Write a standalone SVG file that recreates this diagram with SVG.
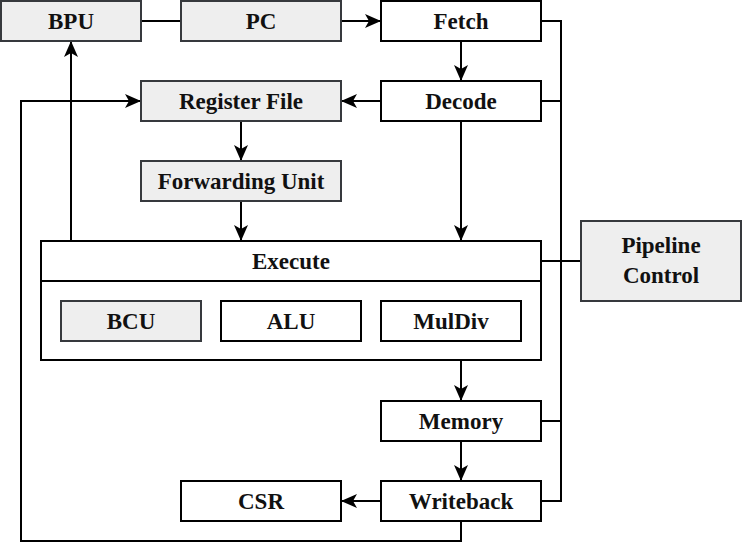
<svg xmlns="http://www.w3.org/2000/svg" width="742" height="558" viewBox="0 0 742 558">
<defs>
<marker id="arr" viewBox="0 0 16 14" refX="16" refY="7" markerWidth="16" markerHeight="14" markerUnits="userSpaceOnUse" orient="auto">
<path d="M0,0 L16,7 L0,14 L4,7 Z" fill="#000"/>
</marker>
<style>
.g{fill:#eeeeee;stroke:#36393d;stroke-width:2}
.w{fill:#ffffff;stroke:#000;stroke-width:2}
.c{fill:none;stroke:#000;stroke-width:2}
.a{fill:none;stroke:#000;stroke-width:2;marker-end:url(#arr)}
</style>
</defs>
<rect width="742" height="558" fill="#fff"/>
<g id="connectors">
<path class="c" d="M141,21 H181"/>
<path class="a" d="M341,21 H381"/>
<path class="a" d="M461,41 V81"/>
<path class="a" d="M381,101 H341"/>
<path class="a" d="M241,121 V161"/>
<path class="a" d="M241,201 V241"/>
<path class="a" d="M461,121 V241"/>
<path class="a" d="M71,241 V41"/>
<path class="a" d="M461,360 V401"/>
<path class="a" d="M461,441 V481"/>
<path class="a" d="M381,501 H341"/>
<path class="a" d="M461,521 V541 H21 V101 H141"/>
<path class="c" d="M541,21 H561 V501 H541"/>
<path class="c" d="M541,101 H561"/>
<path class="c" d="M541,421 H561"/>
<path class="c" d="M541,261 H581"/>
</g>
<g font-family="Liberation Serif, Times New Roman, DejaVu Serif, serif" font-weight="bold" font-size="23" fill="#111" text-anchor="middle">
<g id="bpu"><rect class="g" x="1" y="1" width="140" height="40"/><text x="71" y="29">BPU</text></g>
<g id="pc"><rect class="g" x="181" y="1" width="160" height="40"/><text x="261" y="29">PC</text></g>
<g id="fetch"><rect class="w" x="381" y="1" width="160" height="40"/><text x="461" y="29">Fetch</text></g>
<g id="decode"><rect class="w" x="381" y="81" width="160" height="40"/><text x="461" y="109">Decode</text></g>
<g id="regfile"><rect class="g" x="141" y="81" width="200" height="40"/><text x="241" y="109">Register File</text></g>
<g id="fwd"><rect class="g" x="141" y="161" width="200" height="40"/><text x="241" y="189">Forwarding Unit</text></g>
<g id="execute">
<rect class="w" x="41" y="241" width="500" height="119"/>
<path class="c" d="M41,281 H541"/>
<text x="291" y="269">Execute</text>
</g>
<g id="bcu"><rect class="g" x="61" y="301" width="140" height="40"/><text x="131" y="329">BCU</text></g>
<g id="alu"><rect class="w" x="221" y="301" width="140" height="40"/><text x="291" y="329">ALU</text></g>
<g id="muldiv"><rect class="w" x="381" y="301" width="140" height="40"/><text x="451" y="329">MulDiv</text></g>
<g id="pipectrl"><rect class="g" x="581" y="221" width="160" height="80"/><text x="661" y="253">Pipeline</text><text x="661" y="283">Control</text></g>
<g id="memory"><rect class="w" x="381" y="401" width="160" height="40"/><text x="461" y="429">Memory</text></g>
<g id="writeback"><rect class="w" x="381" y="481" width="160" height="40"/><text x="461" y="509">Writeback</text></g>
<g id="csr"><rect class="w" x="181" y="481" width="160" height="40"/><text x="261" y="509">CSR</text></g>
</g>
</svg>
